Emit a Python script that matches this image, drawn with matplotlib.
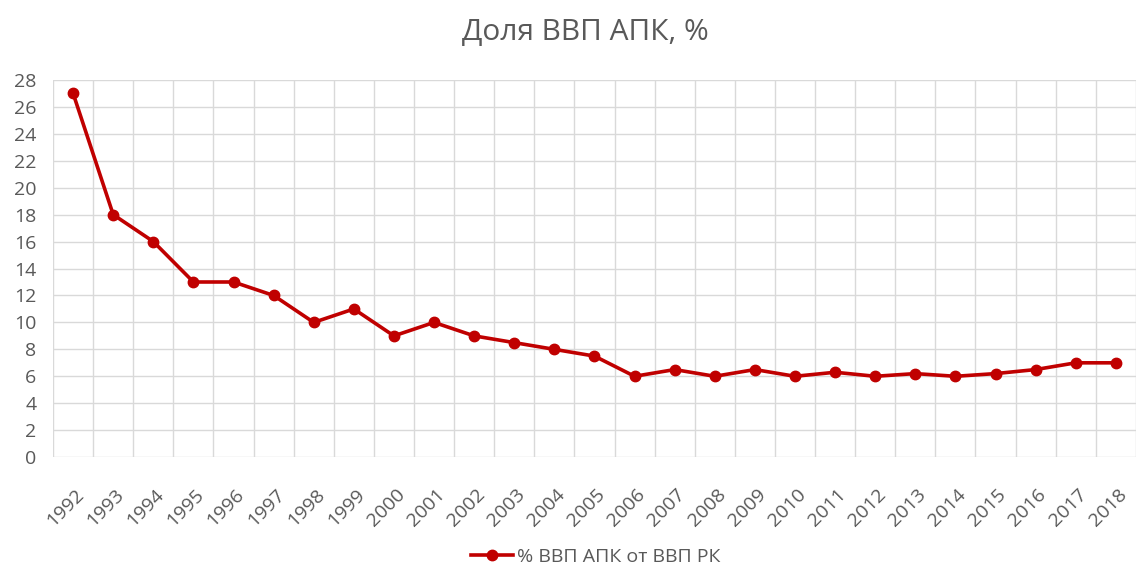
import matplotlib
matplotlib.use("Agg")
import matplotlib.pyplot as plt
import matplotlib.transforms as mtransforms
import numpy as np

years = [str(y) for y in range(1992, 2019)]
values = [27, 18, 16, 13, 13, 12, 10, 11, 9, 10, 9, 8.5, 8, 7.5,
          6, 6.5, 6, 6.5, 6, 6.3, 6, 6.2, 6, 6.2, 6.5, 7, 7]
yticks = list(range(0, 29, 2))
series_name = "% ВВП АПК от ВВП РК"
title = "Доля ВВП АПК, %"

plt.rcParams['font.family'] = ['Open Sans', 'DejaVu Sans']
text_color = '#595959'
red = '#C00000'

fig = plt.figure(figsize=(11.41, 5.75), dpi=100)
ax = fig.add_axes([0.0465, 0.205, 0.949, 0.656])

x = np.arange(len(years))
ax.plot(x, values, color=red, lw=2.6, marker='o', ms=7.5,
        markerfacecolor=red, markeredgecolor=red, label=series_name, zorder=3)

ax.set_xlim(-0.5, len(years) - 0.5)
ax.set_ylim(0, 28)
ax.set_yticks(yticks)
ax.set_yticklabels([str(t) for t in yticks])
ax.set_xticks(x)
ax.set_xticklabels(years, rotation=45, ha='right', va='center', rotation_mode='anchor')
ax.set_xticks(np.arange(-0.5, len(years), 1.0), minor=True)

ax.grid(False)
ax.grid(True, which='minor', axis='x', color='#d9d9d9', lw=1)
ax.grid(True, which='major', axis='y', color='#d9d9d9', lw=1)
ax.set_axisbelow(True)
for s in ax.spines.values():
    s.set_visible(False)
ax.tick_params(axis='both', which='both', length=0, colors=text_color)
ax.tick_params(axis='y', labelsize=14, pad=12)
ax.tick_params(axis='x', which='major', labelsize=14, pad=25)

offset = mtransforms.ScaledTranslation(8 / 100, 0, fig.dpi_scale_trans)
for lbl in ax.get_xticklabels():
    lbl.set_transform(lbl.get_transform() + offset)

fig.text(0.513, 0.944, title, ha='center', va='center', fontsize=21.5, color=text_color)
leg = fig.legend(loc='center', bbox_to_anchor=(0.522, 0.031), frameon=False,
                 fontsize=14, handlelength=2.2, handletextpad=0.2)
for t in leg.get_texts():
    t.set_color(text_color)

fig.savefig("out.png", dpi=100)
